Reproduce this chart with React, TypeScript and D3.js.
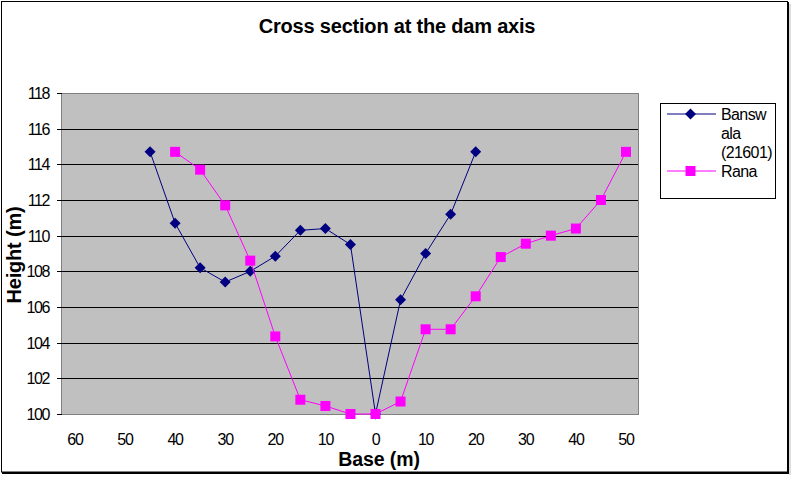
import React from "react";
import * as d3 from "d3";

const bansX = [-45, -40, -35, -30, -25, -20, -15, -10, -5, 0, 5, 10, 15, 20];
const bansY = [114.7, 110.7, 108.2, 107.4, 108.0, 108.85, 110.3, 110.4, 109.5, 100.0, 106.4, 109.0, 111.2, 114.7];
const ranaX = [-40, -35, -30, -25, -20, -15, -10, -5, 0, 5, 10, 15, 20, 25, 30, 35, 40, 45, 50];
const ranaY = [114.7, 113.7, 111.7, 108.6, 104.35, 100.8, 100.45, 100.0, 100.0, 100.7, 104.75, 104.75, 106.6, 108.8, 109.55, 110.0, 110.4, 112.0, 114.7];
const xTicks = [-60, -50, -40, -30, -20, -10, 0, 10, 20, 30, 40, 50];
const yTicks = [100, 102, 104, 106, 108, 110, 112, 114, 116, 118];
const title = "Cross section at the dam axis";
const xLabel = "Base (m)";
const yLabel = "Height (m)";
const legendBans = ["Bansw", "ala", "(21601)"];
const legendRana = "Rana";

const FONT = "'Liberation Sans', Arial, sans-serif";

export default function App() {
  const W = 792, H = 478;
  const left = 62, right = 638, top = 93, bottom = 414;
  // 0 at 375.5, 10 units = 50.1px
  const x = d3.scaleLinear().domain([0, 10]).range([375.5, 425.6]);
  const y = d3.scaleLinear().domain([100, 118]).range([bottom, top]);
  const line = d3.line<[number, number]>().x(d => x(d[0])).y(d => y(d[1]));
  const bans: [number, number][] = bansX.map((v, i) => [v, bansY[i]]);
  const rana: [number, number][] = ranaX.map((v, i) => [v, ranaY[i]]);
  const navy = "#000080";
  const mag = "#FF00FF";
  const diamond = (cx: number, cy: number, r = 5.5) =>
    `M${cx},${cy - r}L${cx + r},${cy}L${cx},${cy + r}L${cx - r},${cy}Z`;

  return (
    <div style={{ position: "fixed", left: 0, top: 0 }}>
      <svg width={W} height={H} style={{ display: "block", background: "#fff" }} fontFamily={FONT}>
        <rect x={1.5} y={1.5} width={786} height={470.5} fill="#fff" stroke="#000" strokeWidth={1} />
        <line x1={788} y1={2} x2={788} y2={473} stroke="#000" strokeWidth={2} />
        <line x1={2} y1={473} x2={789} y2={473} stroke="#000" strokeWidth={2} />
        <line x1={790} y1={4} x2={790} y2={475} stroke="#bbb" strokeWidth={1} />

        <text x={397} y={33} textAnchor="middle" fontWeight="bold" fontSize={20} letterSpacing={-0.2}>{title}</text>

        <rect x={left} y={top} width={right - left} height={bottom - top} fill="#C0C0C0" />
        {yTicks.slice(1).map(t => (
          <line key={t} x1={left} x2={right} y1={Math.round(y(t)) + 0.5} y2={Math.round(y(t)) + 0.5}
            stroke={t === 118 ? "#808080" : "#000"} strokeWidth={1} />
        ))}
        <line x1={right + 0.5} x2={right + 0.5} y1={top} y2={bottom} stroke="#808080" />
        <line x1={left - 0.5} x2={left - 0.5} y1={top} y2={bottom + 0.5} stroke="#808080" />
        <line x1={left} x2={right + 1} y1={bottom + 0.5} y2={bottom + 0.5} stroke="#808080" />
        {yTicks.map(t => (
          <g key={t}>
            <line x1={left - 5} x2={left} y1={Math.round(y(t)) + 0.5} y2={Math.round(y(t)) + 0.5} stroke="#000" />
            <text x={49} y={y(t) + 6} textAnchor="end" fontSize={16} letterSpacing={-1.4}>{t}</text>
          </g>
        ))}
        {xTicks.map(t => (
          <text key={t} x={x(t)} y={445} textAnchor="middle" fontSize={16} letterSpacing={-1.2}>{Math.abs(t)}</text>
        ))}
        <text x={379} y={466} textAnchor="middle" fontWeight="bold" fontSize={19.5} letterSpacing={-0.1}>{xLabel}</text>
        <text transform={`translate(21,255) rotate(-90)`} textAnchor="middle" fontWeight="bold" fontSize={20} letterSpacing={-0.2}>{yLabel}</text>

        <path d={line(bans) || ""} fill="none" stroke={navy} strokeWidth={1} />
        {bans.map((d, i) => (
          <path key={i} d={diamond(x(d[0]), y(d[1]))} fill={navy} />
        ))}
        <path d={line(rana) || ""} fill="none" stroke={mag} strokeWidth={1} />
        {rana.map((d, i) => (
          <rect key={i} x={x(d[0]) - 5} y={y(d[1]) - 5} width={10} height={10} fill={mag} />
        ))}

        <rect x={660.5} y={103.5} width={115} height={95} fill="#fff" stroke="#000" />
        <line x1={667} x2={716} y1={114} y2={114} stroke={navy} />
        <path d={diamond(690.5, 114)} fill={navy} />
        {legendBans.map((s, i) => (
          <text key={i} x={721} y={120 + i * 19} fontSize={16} letterSpacing={-0.6}>{s}</text>
        ))}
        <line x1={667} x2={716} y1={171} y2={171} stroke={mag} />
        <rect x={685.5} y={166} width={10} height={10} fill={mag} />
        <text x={721} y={177} fontSize={16} letterSpacing={-0.6}>{legendRana}</text>
      </svg>
    </div>
  );
}
